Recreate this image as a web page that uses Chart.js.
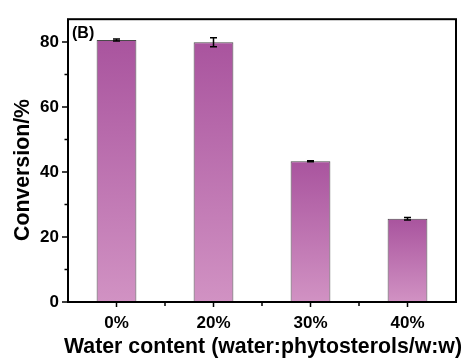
<!DOCTYPE html>
<html>
<head>
<meta charset="utf-8">
<script src="https://cdn.jsdelivr.net/npm/chart.js@4"></script>
<style>
  html, body { margin: 0; padding: 0; background: #fff; }
  #wrap { width: 465px; height: 363px; }
</style>
</head>
<body>
<div id="wrap"><canvas id="c" width="465" height="363"></canvas></div>
<script>
// Water content levels and measured conversion (mean ± error)
const categories = ['0%', '20%', '30%', '40%'];
const conversion = [80.6, 79.9, 43.3, 25.6];
const errors = [0.3, 1.4, 0.15, 0.4];
const yTicks = [0, 20, 40, 60, 80];
const yMinorTicks = [10, 30, 50, 70];
const yTitle = 'Conversion/%';
const xTitle = 'Water content (water:phytosterols/w:w)';

const FONT = "'Liberation Sans', Arial, sans-serif";

// Per-bar vertical gradient: darker purple at the top, soft pink at the base
function barGradient(ctx) {
  const chart = ctx.chart;
  const y = chart.scales && chart.scales.y;
  if (!chart.chartArea || !y || ctx.dataIndex === undefined) return '#bf78b2';
  const v = ctx.dataset.data[ctx.dataIndex];
  const top = y.getPixelForValue(v);
  const base = y.getPixelForValue(0);
  const g = chart.ctx.createLinearGradient(0, top, 0, base);
  g.addColorStop(0, '#a9549e');
  g.addColorStop(1, '#d192c3');
  return g;
}

const decorations = {
  id: 'decorations',
  afterDatasetsDraw(chart) {
    const { ctx, chartArea: a, scales: { x, y } } = chart;
    ctx.save();
    // error bars
    ctx.strokeStyle = '#000';
    ctx.lineWidth = 1.5;
    conversion.forEach((v, i) => {
      const cx = x.getPixelForValue(i);
      const hi = y.getPixelForValue(v + errors[i]);
      const lo = y.getPixelForValue(v - errors[i]);
      ctx.beginPath();
      ctx.moveTo(cx, hi); ctx.lineTo(cx, lo);
      ctx.moveTo(cx - 3.5, hi); ctx.lineTo(cx + 3.5, hi);
      ctx.moveTo(cx - 3.5, lo); ctx.lineTo(cx + 3.5, lo);
      ctx.stroke();
    });
    // frame
    ctx.lineWidth = 2;
    ctx.strokeRect(a.left, a.top, a.right - a.left, a.bottom - a.top);
    // y ticks (major and minor), pointing outward
    ctx.lineWidth = 1.5;
    ctx.beginPath();
    yTicks.forEach(v => {
      const py = y.getPixelForValue(v);
      ctx.moveTo(a.left - 6, py); ctx.lineTo(a.left, py);
    });
    yMinorTicks.forEach(v => {
      const py = y.getPixelForValue(v);
      ctx.moveTo(a.left - 3.5, py); ctx.lineTo(a.left, py);
    });
    // x ticks at category centres and between categories
    categories.forEach((c, i) => {
      const px = x.getPixelForValue(i);
      ctx.moveTo(px, a.bottom); ctx.lineTo(px, a.bottom + 5);
      if (i > 0) {
        const mid = (px + x.getPixelForValue(i - 1)) / 2;
        ctx.moveTo(mid, a.bottom); ctx.lineTo(mid, a.bottom + 4);
      }
    });
    ctx.stroke();
    // panel label
    ctx.fillStyle = '#000';
    ctx.font = 'bold 16px ' + FONT;
    ctx.textBaseline = 'alphabetic';
    ctx.textAlign = 'left';
    ctx.fillText('(B)', a.left + 4, a.top + 19);
    // axis titles
    ctx.font = 'bold 21.3px ' + FONT;
    ctx.textAlign = 'center';
    ctx.textBaseline = 'middle';
    ctx.fillText(xTitle, 263, 347);
    ctx.translate(23, 170);
    ctx.rotate(-Math.PI / 2);
    ctx.fillText(yTitle, 0, 0);
    ctx.restore();
  }
};

new Chart(document.getElementById('c'), {
  type: 'bar',
  data: {
    labels: categories,
    datasets: [{
      data: conversion,
      backgroundColor: barGradient,
      borderColor: '#4a4a4a',
      borderWidth: 1,
      borderSkipped: false,
      barPercentage: 0.41,
      categoryPercentage: 1.0
    }]
  },
  options: {
    responsive: false,
    animation: false,
    devicePixelRatio: 1,
    layout: { padding: { top: 14, right: 9, left: 0, bottom: 0 } },
    plugins: { legend: { display: false }, tooltip: { enabled: false } },
    scales: {
      x: {
        grid: { display: false, drawTicks: false },
        border: { display: false },
        ticks: { color: '#000', font: { family: FONT, size: 17, weight: 'bold' }, padding: 11 },
        afterFit(s) { s.height = 61; }
      },
      y: {
        min: 0,
        max: 87,
        grid: { display: false, drawTicks: false },
        border: { display: false },
        afterBuildTicks(s) { s.ticks = yTicks.map(v => ({ value: v })); },
        ticks: { color: '#000', font: { family: FONT, size: 17, weight: 'bold' }, padding: 9 },
        afterFit(s) { s.width = 68; }
      }
    }
  },
  plugins: [decorations]
});
</script>
</body>
</html>
